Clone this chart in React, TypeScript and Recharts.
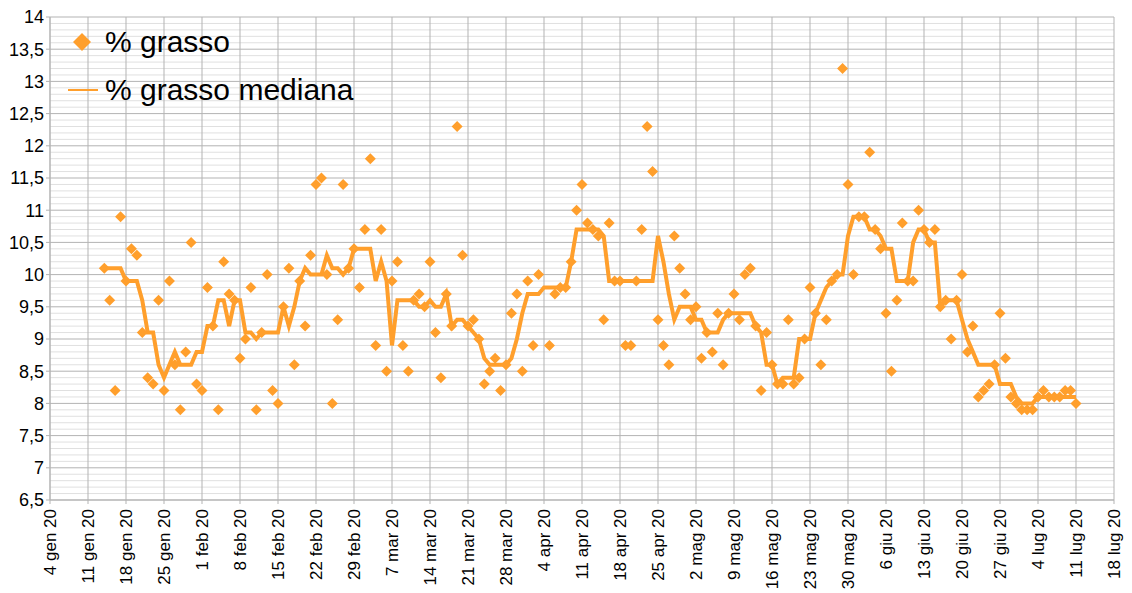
import React from 'react'
import { ComposedChart, Line, Scatter, XAxis, YAxis, CartesianGrid } from 'recharts'

// day 0 = 4 gen 2020, first reading on day 10
const firstDay = 10

const grasso: (number | null)[] = [
  10.1, 9.6, 8.2, 10.9, 9.9, 10.4, 10.3, 9.1, 8.4, 8.3,
  9.6, 8.2, 9.9, 8.6, 7.9, 8.8, 10.5, 8.3, 8.2, 9.8,
  9.2, 7.9, 10.2, 9.7, 9.6, 8.7, 9.0, 9.8, 7.9, 9.1,
  10.0, 8.2, 8.0, 9.5, 10.1, 8.6, 9.9, 9.2, 10.3, 11.4,
  11.5, 10.0, 8.0, 9.3, 11.4, 10.1, 10.4, 9.8, 10.7, 11.8,
  8.9, 10.7, 8.5, 9.9, 10.2, 8.9, 8.5, 9.6, 9.7, 9.5,
  10.2, 9.1, 8.4, 9.7, 9.2, 12.3, 10.3, 9.2, 9.3, 9.0,
  8.3, 8.5, 8.7, 8.2, 8.6, 9.4, 9.7, 8.5, 9.9, 8.9,
  10.0, null, 8.9, 9.7, 9.8, 9.8, 10.2, 11.0, 11.4, 10.8,
  10.7, 10.6, 9.3, 10.8, 9.9, 9.9, 8.9, 8.9, 9.9, 10.7,
  12.3, 11.6, 9.3, 8.9, 8.6, 10.6, 10.1, 9.7, 9.3, 9.5,
  8.7, 9.1, 8.8, 9.4, 8.6, 9.4, 9.7, 9.3, 10.0, 10.1,
  9.2, 8.2, 9.1, 8.6, 8.3, 8.3, 9.3, 8.3, 8.4, 9.0,
  9.8, 9.4, 8.6, 9.3, 9.9, 10.0, 13.2, 11.4, 10.0, 10.9,
  10.9, 11.9, 10.7, 10.4, 9.4, 8.5, 9.6, 10.8, 9.9, 9.9,
  11.0, 10.7, 10.5, 10.7, 9.5, 9.6, 9.0, 9.6, 10.0, 8.8,
  9.2, 8.1, 8.2, 8.3, 8.6, 9.4, 8.7, 8.1, 8.0, 7.9,
  7.9, 7.9, 8.1, 8.2, 8.1, 8.1, 8.1, 8.2, 8.2, 8.0,
]

const mediana: number[] = [
  10.1, 10.1, 10.1, 10.1, 9.9, 9.9, 9.9, 9.6, 9.1, 9.1,
  8.6, 8.4, 8.6, 8.8, 8.6, 8.6, 8.6, 8.8, 8.8, 9.2,
  9.2, 9.6, 9.6, 9.2, 9.6, 9.6, 9.1, 9.1, 9.0, 9.1,
  9.1, 9.1, 9.1, 9.5, 9.2, 9.5, 9.9, 10.1, 10.0, 10.0,
  10.0, 10.3, 10.1, 10.1, 10.0, 10.1, 10.4, 10.4, 10.4, 10.4,
  9.9, 10.2, 9.9, 8.9, 9.6, 9.6, 9.6, 9.6, 9.5, 9.5,
  9.6, 9.5, 9.5, 9.7, 9.2, 9.3, 9.3, 9.2, 9.1, 9.0,
  8.7, 8.6, 8.6, 8.6, 8.6, 8.7, 9.0, 9.4, 9.7, 9.7,
  9.7, 9.8, 9.8, 9.8, 9.8, 9.8, 10.2, 10.7, 10.7, 10.7,
  10.7, 10.7, 10.6, 9.9, 9.9, 9.9, 9.9, 9.9, 9.9, 9.9,
  9.9, 9.9, 10.6, 10.2, 9.7, 9.3, 9.5, 9.5, 9.5, 9.3,
  9.3, 9.1, 9.1, 9.1, 9.3, 9.4, 9.4, 9.4, 9.4, 9.4,
  9.2, 9.1, 8.6, 8.6, 8.3, 8.4, 8.4, 8.4, 9.0, 9.0,
  9.0, 9.4, 9.6, 9.8, 9.9, 10.0, 10.0, 10.6, 10.9, 10.9,
  10.9, 10.7, 10.7, 10.6, 10.4, 10.4, 9.9, 9.9, 9.9, 10.5,
  10.7, 10.7, 10.5, 10.5, 9.5, 9.6, 9.6, 9.6, 9.3, 9.0,
  8.8, 8.6, 8.6, 8.6, 8.6, 8.3, 8.3, 8.3, 8.1, 8.0,
  8.0, 8.0, 8.1, 8.1, 8.1, 8.1, 8.1, 8.1, 8.1, 8.1,
]

const weekLabels = [
  '4 gen 20', '11 gen 20', '18 gen 20', '25 gen 20', '1 feb 20', '8 feb 20',
  '15 feb 20', '22 feb 20', '29 feb 20', '7 mar 20', '14 mar 20', '21 mar 20',
  '28 mar 20', '4 apr 20', '11 apr 20', '18 apr 20', '25 apr 20', '2 mag 20',
  '9 mag 20', '16 mag 20', '23 mag 20', '30 mag 20', '6 giu 20', '13 giu 20',
  '20 giu 20', '27 giu 20', '4 lug 20', '11 lug 20', '18 lug 20',
]

const yTicks = [6.5, 7, 7.5, 8, 8.5, 9, 9.5, 10, 10.5, 11, 11.5, 12, 12.5, 13, 13.5, 14]

const orange = '#ff9f2c'
const font = '"Liberation Sans", Arial, sans-serif'

const weekTicks = weekLabels.map((_, i) => i * 7)
const minorTicks: number[] = []
for (let i = 65; i <= 140; i++) if (i % 5 !== 0) minorTicks.push(i / 10)

const lineData = mediana.map((v, i) => ({ day: firstDay + i, mediana: v }))
const scatterData = grasso
  .map((v, i) => ({ day: firstDay + i, grasso: v }))
  .filter((p) => p.grasso !== null)

const Diamond = (props: any) => {
  const { cx, cy } = props
  if (cx == null || cy == null) return null
  const r = 5.5
  return <polygon points={`${cx},${cy - r} ${cx + r},${cy} ${cx},${cy + r} ${cx - r},${cy}`} fill={orange} />
}

const DateTick = ({ x, y, payload }: any) => (
  <g transform={`translate(${x},${y})`}>
    <text transform="rotate(-90)" x={-3} y={0} dy="0.36em" textAnchor="end" fontSize={17} fill="#000" fontFamily={font}>
      {weekLabels[payload.value / 7]}
    </text>
  </g>
)

// legend drawn as an overlay so it does not shrink the plot
function ChartLegend() {
  return (
    <div style={{ position: 'absolute', left: 62, top: 18, fontFamily: font, fontSize: 30, color: '#000', lineHeight: '44px' }}>
      <div style={{ display: 'flex', alignItems: 'center', height: 48 }}>
        <svg width={43} height={44}>
          <polygon points="20,13 29,22 20,31 11,22" fill={orange} />
        </svg>
        <span>% grasso</span>
      </div>
      <div style={{ display: 'flex', alignItems: 'center', height: 48 }}>
        <svg width={43} height={44}>
          <line x1={6} y1={22} x2={36} y2={22} stroke={orange} strokeWidth={2} />
        </svg>
        <span>% grasso mediana</span>
      </div>
    </div>
  )
}

export default function App() {
  return (
    <div style={{ position: 'absolute', left: 0, top: 0, width: 1132, height: 593, background: '#fff' }}>
      <ComposedChart width={1132} height={593} data={lineData} margin={{ top: 17, right: 18, left: 0, bottom: 0 }}>
        <CartesianGrid horizontalValues={minorTicks} vertical={false} stroke="#e0e0e0" />
        <CartesianGrid horizontalValues={yTicks} verticalValues={weekTicks} stroke="#b3b3b3" />
        <XAxis
          type="number"
          dataKey="day"
          domain={[0, 196]}
          ticks={weekTicks}
          interval={0}
          height={93}
          tick={<DateTick />}
          tickSize={4}
          stroke="#b3b3b3"
        />
        <YAxis
          type="number"
          domain={[6.5, 14]}
          ticks={yTicks}
          interval={0}
          width={50}
          tickSize={4}
          stroke="#b3b3b3"
          tick={{ fill: '#000', fontSize: 18, fontFamily: font }}
          tickFormatter={(v: number) => String(v).replace('.', ',')}
        />
        <Line
          type="linear"
          dataKey="mediana"
          stroke={orange}
          strokeWidth={4}
          dot={false}
          isAnimationActive={false}
        />
        <Scatter data={scatterData} dataKey="grasso" shape={<Diamond />} fill={orange} isAnimationActive={false} />
      </ComposedChart>
      <ChartLegend />
    </div>
  )
}
